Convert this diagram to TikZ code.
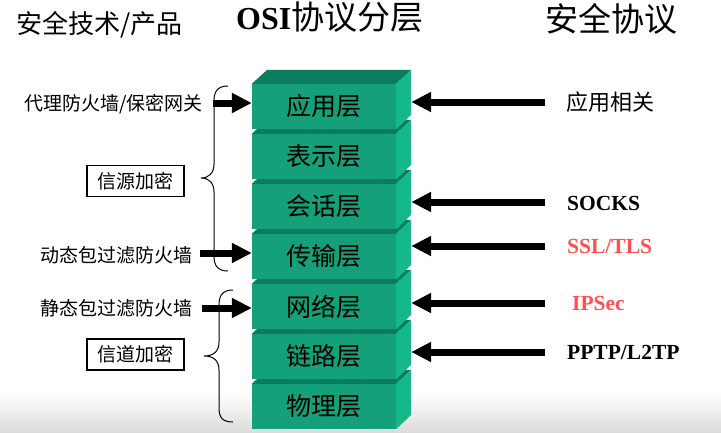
\documentclass[tikz,border=0pt]{standalone}
\usepackage{fontspec}
\setmainfont{Noto Sans CJK SC}
\newfontfamily\tms{Liberation Serif}
\usetikzlibrary{arrows.meta,calc}
\definecolor{frontc}{RGB}{20,160,120}
\definecolor{topc}{RGB}{12,124,92}
\definecolor{sidec}{RGB}{20,184,137}
\definecolor{redl}{RGB}{255,80,80}
\newcommand\fsz[1]{\fontsize{#1}{#1}\selectfont}
\tikzset{
  layer/.style={rectangle, fill=frontc, minimum width=144pt, minimum height=45pt, inner sep=0pt, font=\fsz{25}},
  arr/.style={line width=7pt, -{Triangle[length=20pt,width=19pt]}},
  lbl/.style={inner sep=0pt, font=\fsz{19}},
  proto/.style={inner sep=0pt, anchor=west, font=\tms\bfseries\fsz{21.5}},
  kbox/.style={draw, line width=1.3pt, minimum width=97pt, minimum height=31pt, inner sep=0pt, font=\fsz{19}},
  brace/.style={line width=1pt}
}
\newcommand\osiblock[3]{%
  \node[layer] (#1) at (324,#2) {#3};
  \fill[topc] (#1.north west) -- (#1.north east) -- ++(15,-14) -- ++(-144,0) -- cycle;
  \fill[sidec] (#1.north east) -- ++(15,-14) -- ++(0,45) -- (#1.south east) -- cycle;
  \coordinate (#1r) at ($(#1.east)+(15,0)$);
}
\begin{document}
\begin{tikzpicture}[x=1pt,y=-1pt]
\useasboundingbox (0,0) rectangle (721,432);
\shade[top color=white, bottom color=black!14] (0,392) rectangle (721,432);
% titles
\node[inner sep=0pt, anchor=west, font=\fsz{26}] (t1) at (16,25) {安全技术/产品};
\node[inner sep=0pt, anchor=base west] (t2) at (236,29) {{\tms\bfseries\fsz{32}OSI}{\fsz{33}协议分层}};
\node[inner sep=0pt, anchor=west, font=\fsz{33}] (t3) at (545,19) {安全协议};
% blocks (bottom first)
\osiblock{L7}{406.5}{物理层}
\osiblock{L6}{356.5}{链路层}
\osiblock{L5}{306.5}{网络层}
\osiblock{L4}{256.5}{传输层}
\osiblock{L3}{206.5}{会话层}
\osiblock{L2}{156.5}{表示层}
\osiblock{L1}{106.5}{应用层}
% right labels and arrows
\node[inner sep=0pt, anchor=west, font=\fsz{22}] (p1) at (566,102) {应用相关};
\node[proto] (p3) at (567,203) {SOCKS};
\node[proto, text=redl] (p4) at (567,246) {SSL/TLS};
\node[proto, text=redl] (p5) at (572,303) {IPSec};
\node[proto] (p6) at (567,352) {PPTP/L2TP};
\coordinate (a1) at (545,102);
\coordinate (a3) at (545,202);
\coordinate (a4) at (545,246);
\coordinate (a5) at (545,303);
\coordinate (a6) at (545,352);
\draw[arr] (a1) -- (a1 -| L1r);
\draw[arr] (a3) -- (a3 -| L3r);
\draw[arr] (a4) -- (a4 -| L4r);
\draw[arr] (a5) -- (a5 -| L5r);
\draw[arr] (a6) -- (a6 -| L6r);
% left labels and arrows
\node[lbl, anchor=east] (q1) at (203,104) {代理防火墙/保密网关};
\node[lbl, anchor=east] (q4) at (193,255) {动态包过滤防火墙};
\node[lbl, anchor=east] (q5) at (193,308) {静态包过滤防火墙};
\coordinate (b1) at (213,103);
\coordinate (b4) at (200,253);
\coordinate (b5) at (202,308);
\draw[arr] (b1) -- (b1 -| L1.west);
\draw[arr] (b4) -- (b4 -| L4.west);
\draw[arr] (b5) -- (b5 -| L5.west);
% boxes
\node[kbox] (k1) at (135.5,181) {信源加密};
\node[kbox] (k2) at (135.5,354.5) {信道加密};
% braces
\draw[brace] (228,86) .. controls (218,86) and (214,91) .. (214,101) -- (214,164)
  .. controls (214,173) and (209,178) .. (201,178)
  .. controls (209,178) and (214,183) .. (214,192) -- (214,256)
  .. controls (214,266) and (218,271) .. (228,271);
\draw[brace] (233,290) .. controls (223,290) and (219,295) .. (219,305) -- (219,342)
  .. controls (219,351) and (214,356) .. (204,356)
  .. controls (214,356) and (219,361) .. (219,370) -- (219,408)
  .. controls (219,418) and (223,422) .. (233,422);
\end{tikzpicture}
\end{document}
